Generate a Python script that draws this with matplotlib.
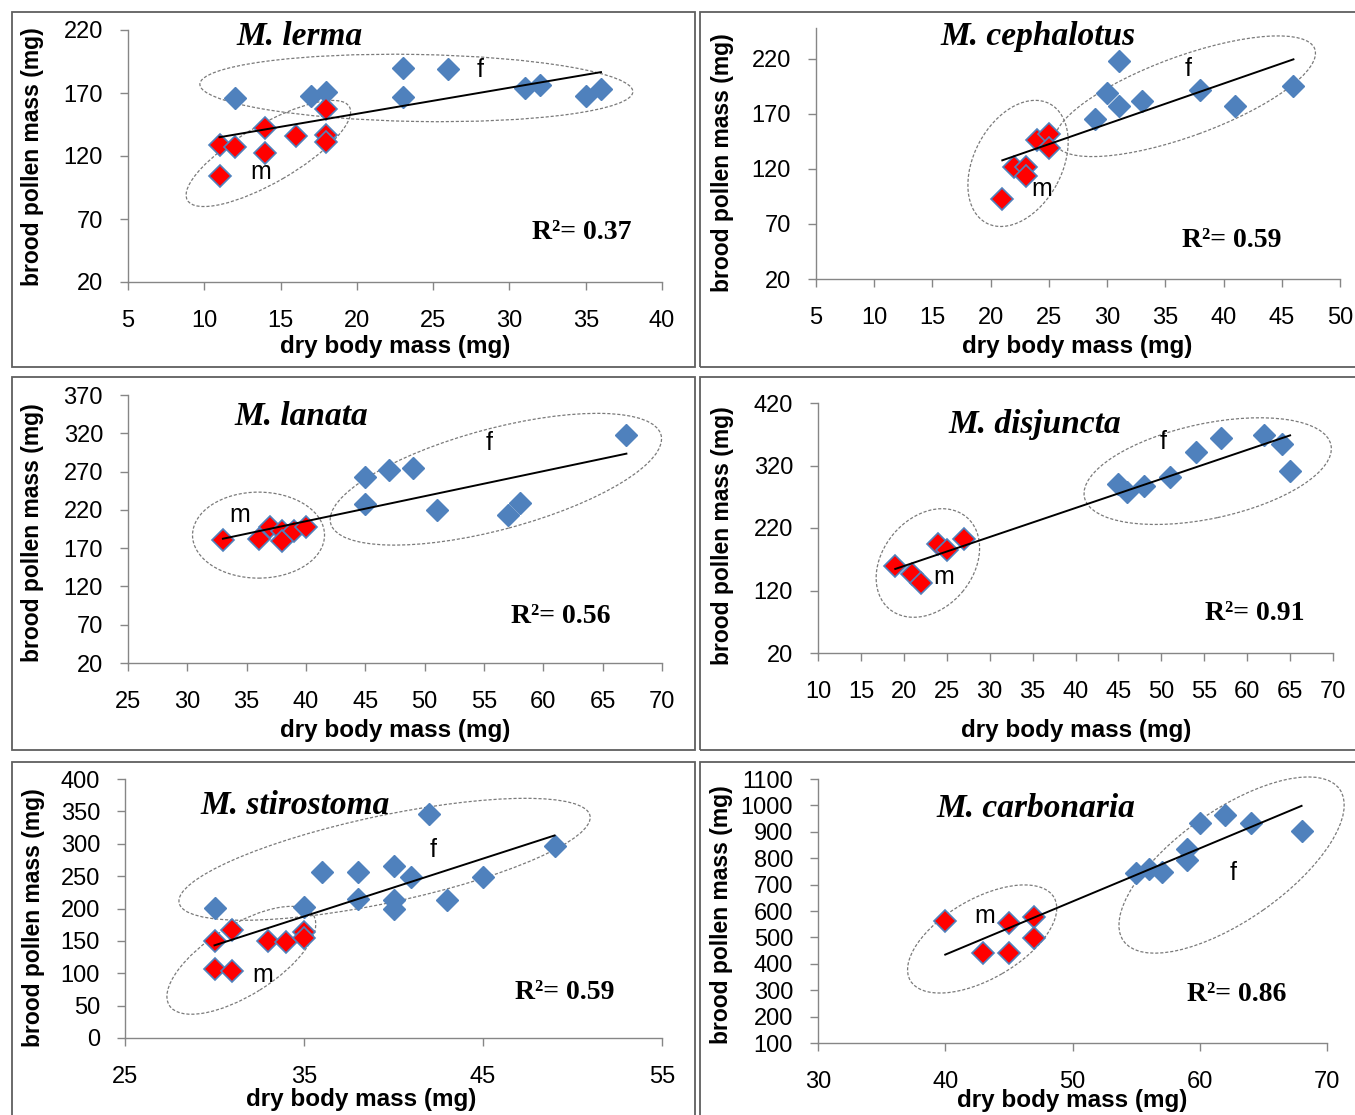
import matplotlib
matplotlib.use("Agg")
import matplotlib.pyplot as plt
import matplotlib.transforms as mtransforms
from matplotlib.patches import Ellipse, Rectangle
import numpy as np

# dry body mass (x) vs brood pollen mass (y), f = females, m = males
lerma_f_x = [12, 17, 18, 23, 23, 26, 31, 32, 35, 36]
lerma_f_y = [166, 168, 171, 190, 167, 189, 174, 176, 168, 173]
lerma_m_x = [11, 11, 12, 14, 14, 16, 18, 18, 18]
lerma_m_y = [129, 104, 127, 142, 122, 136, 157, 137, 131]

cephalotus_f_x = [29, 30, 31, 31, 33, 38, 41, 46]
cephalotus_f_y = [165, 189, 218, 177, 182, 192, 177, 195]
cephalotus_m_x = [21, 22, 23, 23, 24, 25, 25]
cephalotus_m_y = [93, 122, 122, 114, 146, 152, 139]

lanata_f_x = [45, 45, 47, 49, 51, 57, 58, 67]
lanata_f_y = [263, 227, 272, 275, 220, 213, 229, 318]
lanata_m_x = [33, 36, 37, 38, 38, 39, 40]
lanata_m_y = [181, 182, 198, 192, 179, 193, 197]

disjuncta_f_x = [45, 46, 48, 51, 54, 57, 62, 64, 65]
disjuncta_f_y = [291, 278, 288, 301, 342, 364, 369, 354, 311]
disjuncta_m_x = [19, 21, 22, 24, 25, 27]
disjuncta_m_y = [160, 147, 132, 195, 185, 203]

stirostoma_f_x = [30, 35, 36, 38, 38, 40, 40, 40, 41, 42, 43, 45, 49]
stirostoma_f_y = [201, 203, 257, 257, 215, 266, 213, 199, 249, 346, 213, 249, 297]
stirostoma_m_x = [30, 30, 31, 31, 33, 34, 35, 35]
stirostoma_m_y = [150, 107, 167, 103, 150, 148, 164, 155]

carbonaria_f_x = [55, 56, 57, 59, 59, 60, 62, 64, 68]
carbonaria_f_y = [744, 760, 748, 835, 795, 935, 963, 932, 902]
carbonaria_m_x = [40, 43, 45, 45, 47, 47]
carbonaria_m_y = [562, 441, 555, 441, 577, 497]

titles = ["M. lerma", "M. cephalotus", "M. lanata",
          "M. disjuncta", "M. stirostoma", "M. carbonaria"]
r2_labels = ["R²= 0.37", "R²= 0.59", "R²= 0.56",
             "R²= 0.91", "R²= 0.59", "R²= 0.86"]
x_limits = [(5, 40), (5, 50), (25, 70), (10, 70), (25, 55), (30, 70)]
x_steps = [5, 5, 5, 5, 10, 10]
y_limits = [(20, 220), (20, 248), (20, 370), (20, 420), (0, 400), (100, 1100)]
y_steps = [50, 50, 50, 100, 50, 100]

series = [
    (lerma_f_x, lerma_f_y, lerma_m_x, lerma_m_y),
    (cephalotus_f_x, cephalotus_f_y, cephalotus_m_x, cephalotus_m_y),
    (lanata_f_x, lanata_f_y, lanata_m_x, lanata_m_y),
    (disjuncta_f_x, disjuncta_f_y, disjuncta_m_x, disjuncta_m_y),
    (stirostoma_f_x, stirostoma_f_y, stirostoma_m_x, stirostoma_m_y),
    (carbonaria_f_x, carbonaria_f_y, carbonaria_m_x, carbonaria_m_y),
]

# ---- layout (image pixels) ----
W, H = 1355, 1115
axes_px = [(128, 30, 662, 282), (816, 28, 1340, 279),
           (128, 395, 662, 663), (818, 403, 1333, 653),
           (125, 779, 662, 1038), (818, 779, 1327, 1043)]
frames_px = [(12, 12, 695, 367), (700, 12, 1360, 367),
             (12, 377, 695, 750), (700, 377, 1360, 750),
             (12, 762, 695, 1125), (700, 762, 1360, 1125)]
title_pos = [(0.322, 0.976), (0.424, 0.968), (0.324, 0.918),
             (0.421, 0.916), (0.317, 0.896), (0.428, 0.89)]
r2_pos = [(0.85, 0.198), (0.794, 0.155), (0.811, 0.175),
          (0.849, 0.156), (0.819, 0.174), (0.823, 0.182)]
xlabel_pos = [(0.5, -0.254), (0.498, -0.267), (0.5, -0.25),
              (0.501, -0.308), (0.44, -0.239), (0.499, -0.216)]
ylabel_pos = [(-0.178, 0.496), (-0.179, 0.462), (-0.178, 0.485),
              (-0.186, 0.47), (-0.171, 0.463), (-0.189, 0.485)]
# (cx, cy) in data, width/height in px, angle in degrees
ellipses = [
    [(23.9, 174, 433, 67, -1), (14.2, 122, 187, 58, 30)],
    [(36.7, 186, 276, 80, 20), (22.35, 125, 135, 88, 62)],
    [(56.0, 260, 342, 101, 15), (36.0, 187, 132, 86, 0)],
    [(55.4, 311, 252, 95, 12), (22.8, 164, 120, 90, 50)],
    [(39.5, 276, 420, 87, 12), (31.5, 120, 170, 70, 32)],
    [(62.5, 774, 264, 110, 35), (42.9, 494, 166, 80, 30)],
]
fm_pos = [[(28.1, 188), (13.7, 107)], [(37, 211), (24.4, 102)],
          [(55.4, 307), (34.4, 213)], [(50.2, 358), (24.6, 141.6)],
          [(42.2, 290), (32.7, 97)], [(62.6, 744), (43.1, 581)]]

BLUE = "#4F81BD"
RED = "#FF0000"
AX_GREY = "#868686"
SANS = ["Liberation Sans", "DejaVu Sans"]
SERIF = ["Liberation Serif", "DejaVu Serif"]

fig = plt.figure(figsize=(W / 100, H / 100), dpi=100)
fig.patch.set_facecolor("white")

for (l, t, r, b) in frames_px:
    fig.add_artist(Rectangle((l / W, 1 - b / H), (r - l) / W, (b - t) / H,
                             transform=fig.transFigure, fill=False,
                             ec="#5f5f5f", lw=1.3))

for i, (fx, fy, mx, my) in enumerate(series):
    l, t, r, b = axes_px[i]
    ax = fig.add_axes([l / W, 1 - b / H, (r - l) / W, (b - t) / H])
    ax.set_facecolor("none")

    ax.plot(fx, fy, ls="none", marker="D", ms=11, mfc=BLUE, mec=BLUE,
            mew=1.0, clip_on=False, zorder=3)
    ax.plot(mx, my, ls="none", marker="D", ms=11, mfc=RED, mec=BLUE,
            mew=1.2, clip_on=False, zorder=4)

    # linear trend line over all points
    allx = np.array(fx + mx, dtype=float)
    ally = np.array(fy + my, dtype=float)
    slope, icpt = np.polyfit(allx, ally, 1)
    xs = np.array([allx.min(), allx.max()])
    ax.plot(xs, slope * xs + icpt, color="black", lw=1.4, zorder=5)

    for (cx, cy, w, h, ang) in ellipses[i]:
        tr = fig.dpi_scale_trans + mtransforms.ScaledTranslation(cx, cy, ax.transData)
        ax.add_artist(Ellipse((0, 0), w / 100, h / 100, angle=ang, transform=tr,
                              fill=False, ec="#7a7a7a", lw=0.9,
                              ls=(0, (2.5, 1.5)), clip_on=False, zorder=2))

    for lab, (px_, py_) in zip(["f", "m"], fm_pos[i]):
        ax.text(px_, py_, lab, fontsize=18, family=SANS, ha="center",
                va="center", zorder=6)

    x0, x1 = x_limits[i]
    y0, y1 = y_limits[i]
    ax.set_xlim(x0, x1)
    ax.set_ylim(y0, y1)
    ax.set_xticks(np.arange(x0, x1 + 0.1, x_steps[i]))
    ax.set_yticks(np.arange(y0, y1 + 0.1, y_steps[i]))

    for s in ["top", "right"]:
        ax.spines[s].set_visible(False)
    for s in ["left", "bottom"]:
        ax.spines[s].set_color(AX_GREY)
        ax.spines[s].set_linewidth(1.0)
    ax.tick_params(direction="out", length=6, width=1, color=AX_GREY,
                   labelsize=17)
    ax.tick_params(axis="x", pad=14)
    ax.tick_params(axis="y", pad=12)
    for lbl in ax.get_xticklabels() + ax.get_yticklabels():
        lbl.set_family(SANS)

    tx, ty = title_pos[i]
    ax.text(tx, ty, titles[i], transform=ax.transAxes, ha="center",
            va="center", fontsize=24, family=SERIF, style="italic",
            weight="bold")
    rx, ry = r2_pos[i]
    ax.text(rx, ry, r2_labels[i], transform=ax.transAxes, ha="center",
            va="center", fontsize=20, family=SERIF, weight="bold")
    lx, ly = xlabel_pos[i]
    ax.text(lx, ly, "dry body mass (mg)", transform=ax.transAxes,
            ha="center", va="center", fontsize=17.5, family=SANS, weight="bold")
    vx, vy = ylabel_pos[i]
    ax.text(vx, vy, "brood pollen mass (mg)", transform=ax.transAxes,
            ha="center", va="center", rotation=90, fontsize=16.5,
            family=SANS, weight="bold")

fig.savefig("out.png", dpi=100, facecolor="white")
